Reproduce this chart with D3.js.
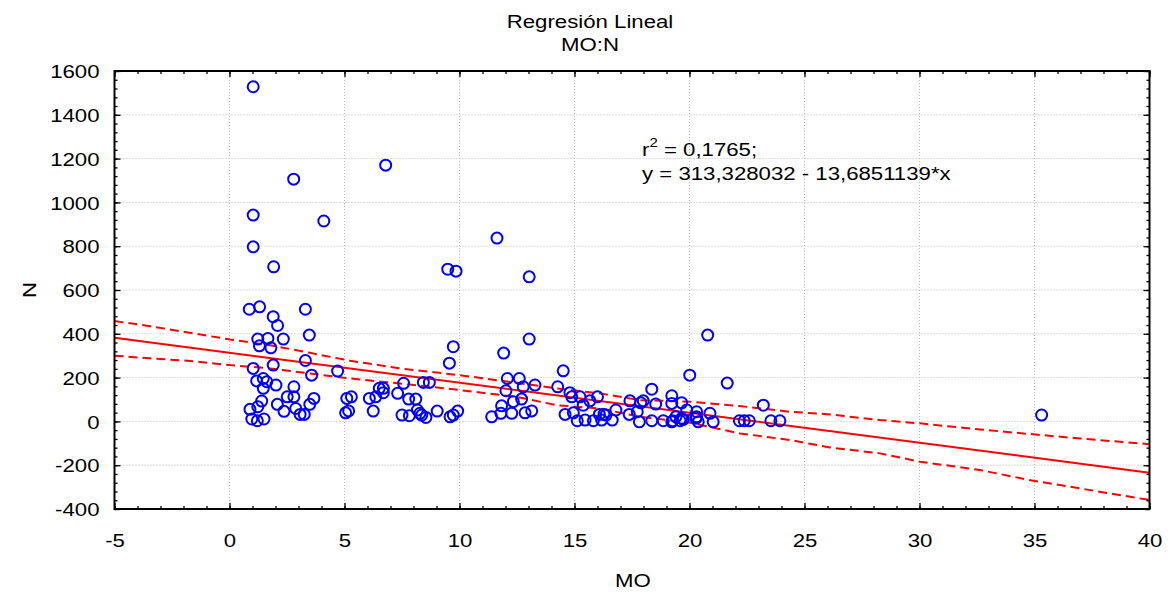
<!DOCTYPE html>
<html>
<head>
<meta charset="utf-8">
<script src="https://cdn.jsdelivr.net/npm/d3@7"></script>
<style>
body{margin:0;background:#fff;}
text{font-family:"Liberation Sans",Arial,sans-serif;fill:#000;}
</style>
</head>
<body>
<svg id="chart" width="1171" height="594"></svg>
<script>
// data
var moValues = [1.03,2.79,6.79,1.03,4.1,1.03,11.63,
  1.92,0.86,1.31,3.3,1.9,2.09,3.47,1.23,1.67,2.34,1.30,1.80,3.30,1.03,1.90,3.57,4.70,
  1.18,1.47,1.62,1.47,2.02,2.80,2.51,2.80,3.67,1.40,2.08,3.49,0.89,1.23,2.37,2.88,
  0.97,1.21,1.50,3.07,3.25,5.1,5.3,5.05,5.18,6.08,6.36,6.25,6.51,6.69,6.69,
  7.31,7.57,7.50,7.82,7.79,8.10,8.17,8.28,8.54,8.43,8.69,9.03,9.59,
  9.49,9.85,13.03,9.73,9.56,11.92,13.03,14.51,20.01,
  8.36,9.73,9.92,11.4,11.83,11.8,12.27,12.34,12.08,12.6,12.02,12.77,13.28,12.7,12.85,13.14,
  14.27,14.8,14.88,15.24,15.38,14.59,14.95,15.12,15.46,15.82,15.67,16.0,16.08,16.28,16.37,
  16.18,16.64,16.8,17.41,17.38,17.82,17.88,17.99,18.36,18.53,18.36,17.73,18.86,19.23,19.23,
  19.66,19.41,19.66,19.27,19.88,20.31,20.28,
  20.79,21.64,20.89,23.21,20.31,19.23,19.59,19.73,20.38,21.03,22.17,22.38,22.6,23.54,23.93,
  35.31];
var nValues = [1528,1106,1170,942,915,797,837,
  706,512,523,512,478,438,394,376,379,376,345,336,278,242,257,211,230,
  185,196,181,151,166,158,112,112,105,93,78,78,55,67,46,59,
  11,3,11,32,32,105,112,39,48,105,112,47,151,151,131,
  128,174,29,26,102,102,52,37,18,178,178,47,21,
  695,686,660,341,266,312,376,231,211,
  29,29,47,21,71,37,37,90,196,196,140,158,166,102,39,48,
  158,131,112,112,74,32,39,3,6,3,94,112,32,32,29,
  6,6,52,94,32,-2,85,94,147,79,3,44,3,117,82,
  85,21,14,3,52,44,14,
  394,175,37,74,21,-2,3,9,-2,-2,3,3,3,3,3,
  29];

// 95% confidence band, read at these MO positions
var bandX     = [-5,-3.46,-1.57,0.02,1.76,3.5,5.24,7.41,10.02,12.49,14.23,16.1,17.85,20.02,22.2,24.37,26.11,28.28,30.02,32.63,34.95,36.98,40];
var bandUpper = [458,435,402,374,348,313,277,242,211,176,151,128,97,90,70,44,32,6,-9,-37,-59,-78,-104];
var bandLower = [300,288,275,257,242,219,196,173,143,112,74,59,21,-6,-55,-85,-119,-146,-184,-222,-271,-306,-359];

var intercept = 313.328032, slope = -13.6851139;
var xTicks = [-5,0,5,10,15,20,25,30,35,40];
var yTicks = [-400,-200,0,200,400,600,800,1000,1200,1400,1600];
var titleLines = ["Regresión Lineal","MO:N"];

var fontSize = 18.5, stretch = 1.2;
var svg = d3.select('#chart');
var x = d3.scaleLinear().domain([-5,40]).range([114.5,1149.5]);
var y = d3.scaleLinear().domain([-400,1600]).range([509,71]);

function label(g,px,py,str,anchor,rot){
  return g.append('text')
    .attr('transform','translate('+px+','+py+')'+(rot?' rotate('+rot+')':'')+' scale('+stretch+',1)')
    .attr('text-anchor',anchor||'middle')
    .style('font-size',fontSize+'px')
    .text(str);
}

// grid
var grid = svg.append('g').attr('stroke','#b8b8b8').attr('stroke-width',1).attr('stroke-dasharray','1,2');
grid.selectAll('.gx').data(xTicks.slice(1,-1)).enter().append('line')
  .attr('x1',function(d){return x(d);}).attr('x2',function(d){return x(d);})
  .attr('y1',y(1600)).attr('y2',y(-400));
grid.selectAll('.gy').data(yTicks.slice(1,-1)).enter().append('line')
  .attr('y1',function(d){return y(d);}).attr('y2',function(d){return y(d);})
  .attr('x1',x(-5)).attr('x2',x(40));

// clip for lines
svg.append('clipPath').attr('id','plotClip').append('rect')
  .attr('x',x(-5)).attr('y',y(1600)).attr('width',x(40)-x(-5)).attr('height',y(-400)-y(1600));

var plot = svg.append('g').attr('clip-path','url(#plotClip)');

var line = d3.line().x(function(d){return x(d[0]);}).y(function(d){return y(d[1]);});
plot.append('path')
  .datum(bandX.map(function(v,i){return [v,bandUpper[i]];}))
  .attr('d',line).attr('fill','none').attr('stroke','#ff0000').attr('stroke-width',2).attr('stroke-dasharray','9,5');
plot.append('path')
  .datum(bandX.map(function(v,i){return [v,bandLower[i]];}))
  .attr('d',line).attr('fill','none').attr('stroke','#ff0000').attr('stroke-width',2).attr('stroke-dasharray','9,5');
plot.append('path')
  .datum([[-5,intercept+slope*-5],[40,intercept+slope*40]])
  .attr('d',line).attr('fill','none').attr('stroke','#ff0000').attr('stroke-width',2);

// points
svg.append('g').selectAll('circle').data(moValues).enter().append('circle')
  .attr('cx',function(d){return x(d);})
  .attr('cy',function(d,i){return y(nValues[i]);})
  .attr('r',5.5)
  .attr('fill','none').attr('stroke','#0000ff').attr('stroke-width',2);

// axes: ticks pointing inward on all four sides
function styleAxis(g){ g.select('.domain').remove(); g.selectAll('line').attr('stroke','#000').attr('stroke-width',1.3); }
var minorX = d3.range(-5,41,1), minorY = d3.range(-400,1601,40);

svg.append('g').attr('transform','translate(0,'+y(-400)+')')
  .call(d3.axisBottom(x).tickValues(minorX).tickSize(-3).tickFormat('')).call(styleAxis);
svg.append('g').attr('transform','translate(0,'+y(1600)+')')
  .call(d3.axisTop(x).tickValues(minorX).tickSize(-3).tickFormat('')).call(styleAxis);
svg.append('g').attr('transform','translate('+x(-5)+',0)')
  .call(d3.axisLeft(y).tickValues(minorY).tickSize(-3).tickFormat('')).call(styleAxis);
svg.append('g').attr('transform','translate('+x(40)+',0)')
  .call(d3.axisRight(y).tickValues(minorY).tickSize(-3).tickFormat('')).call(styleAxis);

var gx = svg.append('g').attr('transform','translate(0,'+y(-400)+')')
  .call(d3.axisBottom(x).tickValues(xTicks).tickSize(-6).tickFormat(function(d){return String(d);})).call(styleAxis);
gx.selectAll('text').attr('y',0).attr('dy',0)
  .attr('transform','translate(0,38) scale('+stretch+',1)')
  .attr('fill','#000').style('font-size',fontSize+'px').style('font-family','"Liberation Sans",Arial,sans-serif');

var gy = svg.append('g').attr('transform','translate('+x(-5)+',0)')
  .call(d3.axisLeft(y).tickValues(yTicks).tickSize(-6).tickFormat(function(d){return String(d);})).call(styleAxis);
gy.selectAll('text').attr('x',0).attr('dy','0.36em')
  .attr('transform','translate(-15,0) scale('+stretch+',1)')
  .attr('fill','#000').style('font-size',fontSize+'px').style('font-family','"Liberation Sans",Arial,sans-serif');

svg.append('g').attr('transform','translate(0,'+y(1600)+')')
  .call(d3.axisTop(x).tickValues(xTicks).tickSize(-6).tickFormat('')).call(styleAxis);
svg.append('g').attr('transform','translate('+x(40)+',0)')
  .call(d3.axisRight(y).tickValues(yTicks).tickSize(-6).tickFormat('')).call(styleAxis);

// frame
svg.append('rect').attr('x',x(-5)).attr('y',y(1600)).attr('width',x(40)-x(-5)).attr('height',y(-400)-y(1600))
  .attr('fill','none').attr('stroke','#000').attr('stroke-width',2);

// titles and labels
label(svg,590,28,titleLines[0]);
label(svg,590,51,titleLines[1]);
label(svg,633,587,'MO');
label(svg,36,290,'N','middle',-90);

// regression statistics
var st = svg.append('text')
  .attr('transform','translate(642,156) scale('+stretch+',1)')
  .style('font-size',fontSize+'px');
st.append('tspan').text('r');
st.append('tspan').attr('dy',-9).style('font-size','12.5px').text('2');
st.append('tspan').attr('dy',9).text(' = 0,1765;');
svg.append('text')
  .attr('transform','translate(642,180) scale('+stretch+',1)')
  .style('font-size',fontSize+'px')
  .text('y = 313,328032 - 13,6851139*x');
</script>
</body>
</html>
